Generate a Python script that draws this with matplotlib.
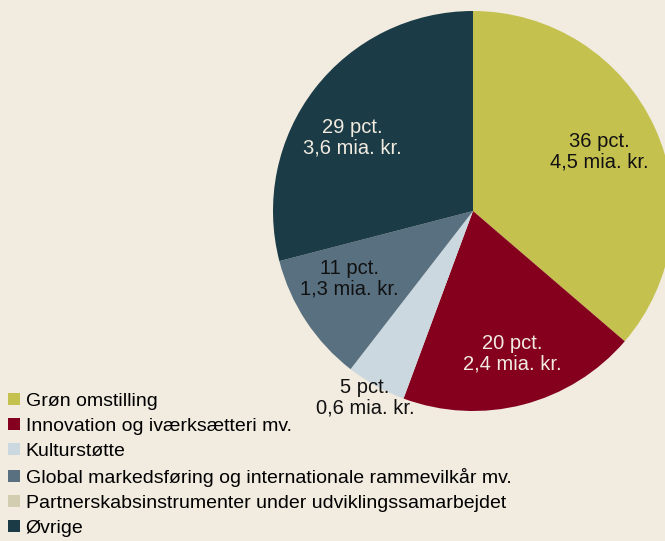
import matplotlib
matplotlib.use("Agg")
import matplotlib.pyplot as plt
from matplotlib.patches import Rectangle

categories = ["Grøn omstilling", "Innovation og iværksætteri mv.", "Kulturstøtte",
              "Global markedsføring og internationale rammevilkår mv.",
              "Partnerskabsinstrumenter under udviklingssamarbejdet", "Øvrige"]
values = [4.5, 2.4, 0.6, 1.3, 0.0, 3.6]          # mia. kr.
pct_labels = ["36 pct.", "20 pct.", "5 pct.", "11 pct.", "", "29 pct."]
amount_labels = ["4,5 mia. kr.", "2,4 mia. kr.", "0,6 mia. kr.", "1,3 mia. kr.", "", "3,6 mia. kr."]
colors = ["#C5C14F", "#85001C", "#CBD8DF", "#587080", "#D2CCB0", "#1B3B47"]
text_colors = ["#111111", "#F1EBE0", "#111111", "#111111", "#111111", "#F1EBE0"]
bg = "#F1EBE0"

# label placement tweaks (pixel nudges)
label_nudge = [(-3, 0), (4, -5), (-3, 2), (-5, 10), (0, 0), (-8, -14)]

plt.rcParams['font.family'] = ['Liberation Sans', 'DejaVu Sans']

W, H = 665, 541
CX, CY, R = 473, H - 211, 200
fig = plt.figure(figsize=(W / 100, H / 100), dpi=100, facecolor=bg)
ax = fig.add_axes([0, 0, 1, 1])
ax.set_facecolor(bg)

wedges, _, autotexts = ax.pie(values, colors=colors, startangle=90, counterclock=False,
                              center=(CX, CY), radius=R,
                              autopct=lambda p: "", pctdistance=0.71,
                              wedgeprops=dict(linewidth=0))
ax.set_xlim(0, W)
ax.set_ylim(0, H)
ax.set_aspect('equal')
ax.axis('off')

for i, t in enumerate(autotexts):
    if not pct_labels[i]:
        continue
    t.set_text(pct_labels[i] + "\n" + amount_labels[i])
    t.set_color(text_colors[i])
    t.set_fontsize(14.5)
    t.set_linespacing(1.1)
    x, y = t.get_position()
    if i == 2:
        x, y = CX + (x - CX) * 1.08 / 0.71, CY + (y - CY) * 1.08 / 0.71
    dx, dy = label_nudge[i]
    t.set_position((x + dx, y + dy))

handles = [Rectangle((0, 0), 1, 1, facecolor=c, edgecolor='none') for c in colors]
leg = fig.legend(handles, categories, loc='lower left', bbox_to_anchor=(8 / W, 4 / H),
                 frameon=False, fontsize=14, handlelength=0.6, handleheight=0.6,
                 handletextpad=0.3, labelspacing=0.41, borderpad=0, borderaxespad=0)

fig.savefig("out.png", dpi=100, facecolor=bg)
